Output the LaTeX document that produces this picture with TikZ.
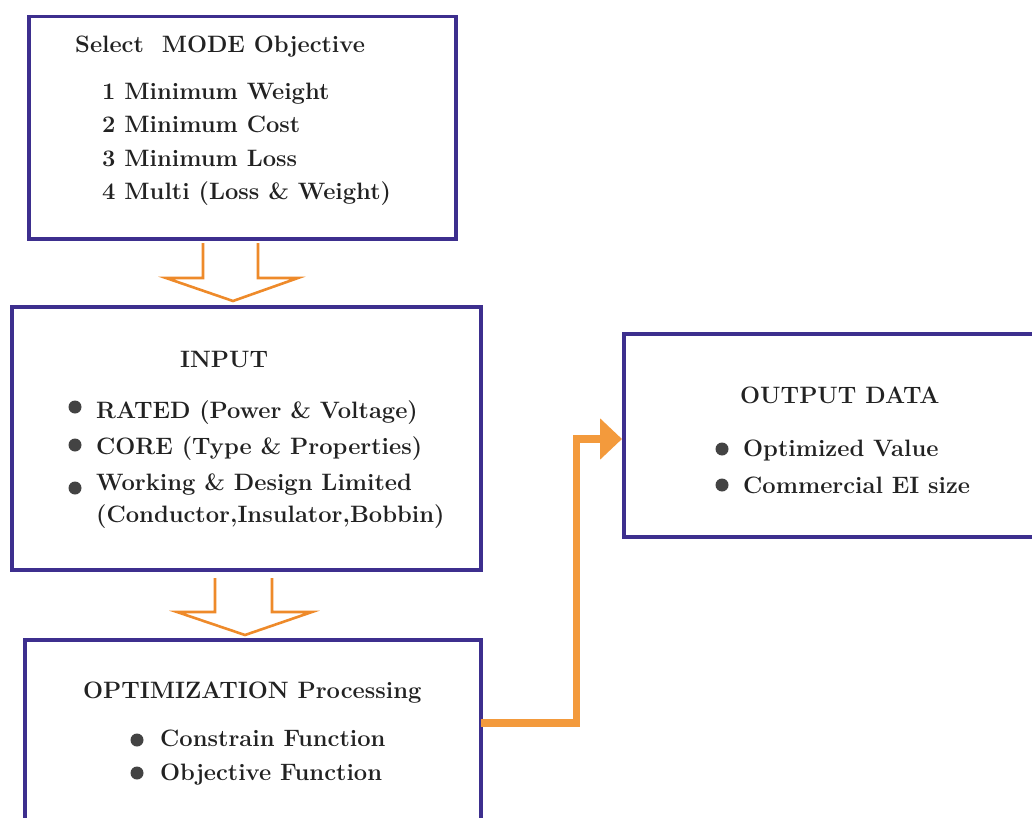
\documentclass[tikz,border=0pt]{standalone}
\usepackage{fontspec}
\usetikzlibrary{arrows.meta,calc}
\definecolor{boxc}{HTML}{3D2F8E}
\definecolor{orc}{HTML}{F39A3C}
\definecolor{orl}{HTML}{EE8A2A}
\definecolor{txt}{HTML}{222222}
\begin{document}
\begin{tikzpicture}[x=1pt,y=-1pt,
  box/.style={draw=boxc, line width=3.5pt, anchor=north west, inner sep=0pt},
  lbl/.style={anchor=base west, inner sep=0pt, font=\fontsize{23.7}{26}\selectfont\bfseries, text=txt},
  dot/.style={circle, fill=txt!85, inner sep=0pt, minimum size=13pt},
  hollow/.style={draw=orl, line width=2.6pt, line join=miter},
  flow/.style={draw=orc, line width=7.5pt, -{Triangle[length=22pt,width=40pt]}}]
\useasboundingbox (0,0) rectangle (1032,818);
\clip (0,0) rectangle (1032,818);
\fill[white] (0,0) rectangle (1032,818);

% boxes
\node[box, minimum width=427pt, minimum height=222pt] (mode) at (27,15) {};
\node[box, minimum width=469pt, minimum height=263pt] (input) at (10,305) {};
\node[box, minimum width=456pt, minimum height=230pt] (opt) at (23,638) {};
\node[box, minimum width=450pt, minimum height=203pt] (out) at (622,332) {};

% box 1 text
\node[lbl] (m0) at (75,53) {Select\ \ MODE Objective};
\node[lbl] (m1) at (102,100) {1 Minimum Weight};
\node[lbl] (m2) at (102,133) {2 Minimum Cost};
\node[lbl] (m3) at (102,167) {3 Minimum Loss};
\node[lbl] (m4) at (102,200) {4 Multi (Loss \& Weight)};

% box 2 text
\node[lbl] (i0) at (180,367) {INPUT};
\node[dot] (ib1) at (75,407) {};
\node[dot] (ib2) at (75,445) {};
\node[dot] (ib3) at (75,488) {};
\node[lbl] (i1) at (96,418) {RATED (Power \& Voltage)};
\node[lbl] (i2) at (96,454) {CORE (Type \& Properties)};
\node[lbl] (i3) at (96,490) {Working \& Design Limited};
\node[lbl] (i4) at (96,522) {(Conductor,Insulator,Bobbin)};

% box 3 text
\node[lbl] (o0) at (83,698) {OPTIMIZATION Processing};
\node[dot] (ob1) at (137,740) {};
\node[dot] (ob2) at (137,773) {};
\node[lbl] (o1) at (160,746) {Constrain Function};
\node[lbl] (o2) at (160,780) {Objective Function};

% box 4 text
\node[lbl] (d0) at (740,403) {OUTPUT DATA};
\node[dot] (db1) at (722,449) {};
\node[dot] (db2) at (722,485) {};
\node[lbl] (d1) at (743,456) {Optimized Value};
\node[lbl] (d2) at (743,493) {Commercial EI size};

% hollow arrows
\coordinate (t1) at ($(input.north west)+(223,-4)$);
\draw[hollow] ($(t1)+(-30,-58)$) -- ($(t1)+(-30,-23)$) -- ($(t1)+(-67,-23)$) -- (t1)
  -- ($(t1)+(65,-23)$) -- ($(t1)+(25,-23)$) -- ($(t1)+(25,-58)$);
\coordinate (t2) at ($(opt.north west)+(222,-3)$);
\draw[hollow] ($(t2)+(-30,-57)$) -- ($(t2)+(-30,-23)$) -- ($(t2)+(-68,-23)$) -- (t2)
  -- ($(t2)+(67,-23)$) -- ($(t2)+(27,-23)$) -- ($(t2)+(27,-57)$);

% flow connector
\coordinate (fs) at ($(opt.north east)+(-2,85)$);
\coordinate (fe) at ($(out.north west)+(0,107)$);
\draw[flow] (fs) -- ($(fs)+(96,0)$) |- (fe);
\end{tikzpicture}
\end{document}
